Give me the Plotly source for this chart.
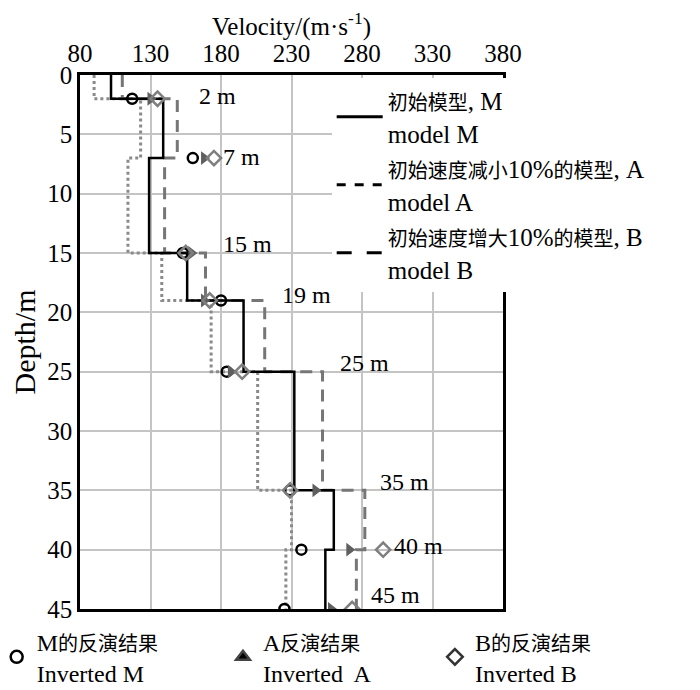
import plotly.graph_objects as go

# Layer tops (m) and velocities (m/s) of the three starting models
layer_tops = [0, 2, 7, 15, 19, 25, 35, 40]
max_depth = 45
model_M = [102, 139, 129, 156, 196, 232, 260, 254]
model_A = [90, 123, 114, 138, 173, 206, 230, 226]
model_B = [110, 149, 140, 169, 211, 252, 282, 276]

# Inversion results
inv_depths = [2, 7, 15, 19, 25, 35, 40, 45]
inv_M = [117, 160, 153, 180, 184, 229, 237, 225]
inv_A = [130, 168, 159, 168, 187, 247, 271, 258]
inv_B = [135, 175, 155, 172, 195, 229, 295, 273]
depth_labels = ["2 m", "7 m", "15 m", "19 m", "25 m", "35 m", "40 m", "45 m"]
label_x = [163, 180, 180, 222, 263, 291, 301, 285]
label_y = [1.8, 6.9, 14.2, 18.5, 24.3, 34.3, 39.7, 43.8]

x_ticks = [80, 130, 180, 230, 280, 330, 380]
y_ticks = [0, 5, 10, 15, 20, 25, 30, 35, 40, 45]

FONT = "Liberation Serif, Times New Roman, Noto Sans CJK SC, serif"

def cjk(s):
    return "<span style='font-size:20px'>" + s + "</span>"

def steps(v):
    return v + [v[-1]], layer_tops + [max_depth]

fig = go.Figure()

for vals, color, dash, width in [
    (model_A, "#8a8a8a", "dot", 3),
    (model_B, "#767676", "12px,8px", 3),
    (model_M, "black", "solid", 2.5),
]:
    xs, ys = steps(vals)
    fig.add_trace(go.Scatter(x=xs, y=ys, mode="lines", line_shape="vh",
                             line=dict(color=color, dash=dash, width=width),
                             showlegend=False, hoverinfo="skip"))

fig.add_trace(go.Scatter(x=inv_M, y=inv_depths, mode="markers", showlegend=False,
                         marker=dict(symbol="circle-open", size=10, color="black",
                                     line=dict(width=2.5))))
fig.add_trace(go.Scatter(x=inv_A, y=inv_depths, mode="markers", showlegend=False,
                         marker=dict(symbol="triangle-right", size=12, color="#5f5f5f")))
fig.add_trace(go.Scatter(x=inv_B, y=inv_depths, mode="markers", showlegend=False,
                         marker=dict(symbol="diamond-open", size=11, color="#7f7f7f",
                                     line=dict(width=2.5))))

# Legend entries (styles as drawn in the reference legend)
legend_lines = [
    (cjk("初始模型") + ", M<br>model M", "solid"),
    (cjk("初始速度减小") + "10%" + cjk("的模型") + ", A<br>model A", "dash"),
    (cjk("初始速度增大") + "10%" + cjk("的模型") + ", B<br>model B", "longdash"),
]
for name, dash in legend_lines:
    fig.add_trace(go.Scatter(x=[None], y=[None], mode="lines", name=name,
                             line=dict(color="black", dash=dash, width=3),
                             legend="legend"))

legend_marks = [
    ("M" + cjk("的反演结果") + "<br>Inverted M", "circle-open", "black", "legend2"),
    ("A" + cjk("反演结果") + "<br>Inverted  A", "triangle-up", "black", "legend3"),
    ("B" + cjk("的反演结果") + "<br>Inverted B", "diamond-open", "#333333", "legend4"),
]
for name, sym, col, lg in legend_marks:
    fig.add_trace(go.Scatter(x=[None], y=[None], mode="markers", name=name,
                             marker=dict(symbol=sym, size=12, color=col, line=dict(width=2.5)),
                             legend=lg))

for txt, lx, ly in zip(depth_labels, label_x, label_y):
    fig.add_annotation(x=lx, y=ly, text=txt, showarrow=False, xanchor="left",
                       yanchor="middle", font=dict(size=24, color="black", family=FONT))

bottom_legend = dict(orientation="v", y=-0.019, xanchor="left", yanchor="top",
                     bgcolor="rgba(0,0,0,0)", itemwidth=30,
                     font=dict(size=24, family=FONT))

# The page places the figure 8 px from the top-left corner, so the figure is
# sized to fill the 700x690 window exactly.
fig.update_layout(
    width=692, height=682,
    margin=dict(l=72, r=197, t=67, b=81, autoexpand=False),
    paper_bgcolor="white", plot_bgcolor="white",
    font=dict(family=FONT, size=25, color="black"),
    xaxis=dict(range=[80, 380], side="top", tickvals=x_ticks,
               showgrid=True, gridcolor="#c4c4c4", gridwidth=2,
               showline=True, mirror=True, linecolor="black", linewidth=2.5,
               zeroline=False, ticks="", tickfont=dict(size=25),
               title=dict(text="Velocity/(m·s<sup>-1</sup>)", standoff=11,
                          font=dict(size=25, family=FONT, color="black"))),
    yaxis=dict(range=[45, 0], tickvals=y_ticks,
               showgrid=True, gridcolor="#c4c4c4", gridwidth=2,
               showline=True, mirror=True, linecolor="black", linewidth=2.5,
               zeroline=False, ticks="", tickfont=dict(size=25),
               title=dict(text="Depth/m", standoff=6)),
    legend=dict(x=0.595, y=0.995, xanchor="left", yanchor="top",
                bgcolor="white", borderwidth=0, itemwidth=46,
                font=dict(size=25, family=FONT), tracegroupgap=0),
    legend2=dict(bottom_legend, x=-0.197),
    legend3=dict(bottom_legend, x=0.338),
    legend4=dict(bottom_legend, x=0.839),
)

fig.write_html("out.html")
